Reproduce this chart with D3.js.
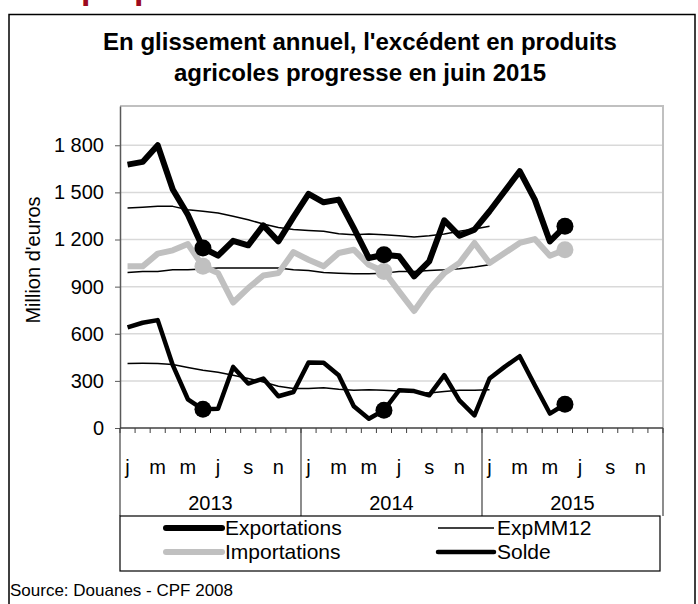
<!DOCTYPE html>
<html>
<head>
<meta charset="utf-8">
<script src="https://cdn.jsdelivr.net/npm/d3@7"></script>
<style>
  body { margin: 0; background: #fff; }
  svg { display: block; }
  text { font-family: Arial, "Liberation Sans", sans-serif; }
</style>
</head>
<body>
<div id="chart"></div>
<script>
// monthly values, jan 2013 -> jun 2015 (million euros)
var monthLabels = ["j", "", "m", "", "m", "", "j", "", "s", "", "n", ""];
var years = ["2013", "2014", "2015"];
var yTicks = [0, 300, 600, 900, 1200, 1500, 1800];

var exportations = [1677, 1694, 1800, 1518, 1358, 1146, 1097, 1192, 1163, 1290, 1188, 1343,
                    1490, 1437, 1454, 1273, 1082, 1103, 1093, 965, 1061, 1322, 1224, 1263,
                    1380, 1507, 1635, 1454, 1188, 1284];
var importations = [1029, 1029, 1110, 1131, 1171, 1030, 986, 799, 891, 971, 986, 1120,
                     1071, 1029, 1114, 1135, 1039, 997, 870, 745, 880, 986, 1050, 1178,
                     1050, 1114, 1178, 1203, 1097, 1135];
var solde = [641, 670, 687, 400, 183, 119, 123, 389, 283, 315, 202, 229,
             417, 415, 336, 138, 59, 113, 240, 235, 208, 336, 176, 80,
             315, 389, 457, 272, 92, 151];
// 12 month moving averages (only the export one is in the legend)
var expMM12 = [1401, 1405, 1411, 1411, 1390, 1380, 1369, 1348, 1326, 1299, 1277, 1263,
               1258, 1252, 1237, 1231, 1235, 1231, 1224, 1216, 1224, 1235, 1252, 1267, 1284];
var impMM12 = [990, 997, 997, 1007, 1007, 1012, 1018, 1018, 1018, 1018, 1018, 1007,
               1003, 990, 986, 982, 982, 986, 997, 997, 1003, 1007, 1014, 1025, 1039];
var soldeMM12 = [411, 412, 411, 404, 385, 368, 355, 336, 315, 293, 266, 251,
                 251, 257, 246, 240, 244, 240, 235, 229, 223, 233, 240, 240, 244];
var juneIdx = [5, 17, 29];

(function() {
    var width = 698, height = 604;

    var svg = d3.select("#chart")
        .append("svg")
        .attr("width", width)
        .attr("height", height)

    svg.append("rect").attr("width", width).attr("height", height).attr("fill", "#fff")

    // bits of the page heading cut off above the frame
    svg.append("g").attr("fill", "#9c0a1e").attr("font-weight", "bold").attr("font-size", 34)
        .selectAll("text").data([81, 134]).join("text")
        .attr("x", function(d) { return d }).attr("y", -1).text("p")

    svg.append("rect")
        .attr("x", 9).attr("y", 14.5).attr("width", 686).attr("height", 640)
        .attr("fill", "none").attr("stroke", "#000").attr("stroke-width", 1.5)

    // title
    svg.append("text").attr("x", 360).attr("y", 50).attr("text-anchor", "middle")
        .attr("font-size", 24).attr("font-weight", "bold")
        .text("En glissement annuel, l'excédent en produits")
    svg.append("text").attr("x", 360).attr("y", 81).attr("text-anchor", "middle")
        .attr("font-size", 24).attr("font-weight", "bold")
        .text("agricoles progresse en juin 2015")

    var x = d3.scaleBand().domain(d3.range(36)).range([120, 663])
    var y = d3.scaleLinear().domain([0, 2050]).range([428, 106])
    var bw = x.bandwidth()
    var cx = function(i) { return x(i) + bw / 2 }

    // grid
    svg.append("g").selectAll("line").data(yTicks.filter(function(v) { return v > 0 }))
        .join("line")
        .attr("x1", 120).attr("x2", 663)
        .attr("y1", function(d) { return y(d) }).attr("y2", function(d) { return y(d) })
        .attr("stroke", "#d9d9d9").attr("stroke-width", 1.5)

    // plot frame top / right
    svg.append("path")
        .attr("d", "M120," + y.range()[1] + "H663V428")
        .attr("fill", "none").attr("stroke", "#c0c0c0").attr("stroke-width", 2)

    var fr = d3.formatLocale({ decimal: ",", thousands: "\u00a0", grouping: [3], currency: ["", " €"] })

    var yAxis = svg.append("g")
        .attr("transform", "translate(120,0)")
        .call(d3.axisLeft(y).tickValues(yTicks).tickSize(5).tickSizeOuter(0).tickPadding(11)
            .tickFormat(fr.format(",")))
    yAxis.select(".domain").attr("stroke", "#595959").attr("stroke-width", 1.5)
    yAxis.selectAll(".tick line").attr("stroke", "#595959")
    yAxis.selectAll(".tick text").attr("font-size", 20).attr("fill", "#000")
        .attr("font-family", "Arial, 'Liberation Sans', sans-serif")

    svg.append("text")
        .attr("transform", "translate(40,260) rotate(-90)")
        .attr("text-anchor", "middle").attr("font-size", 20)
        .text("Million d'euros")

    // x axis: line, month ticks, month and year labels
    svg.append("line").attr("x1", 120).attr("x2", 663).attr("y1", 428).attr("y2", 428)
        .attr("stroke", "#404040").attr("stroke-width", 1.5)

    svg.append("g").selectAll("line").data(d3.range(37)).join("line")
        .attr("x1", function(k) { return 120 + k * bw }).attr("x2", function(k) { return 120 + k * bw })
        .attr("y1", 428).attr("y2", 433)
        .attr("stroke", "#404040")

    svg.append("g").selectAll("text").data(d3.range(36)).join("text")
        .attr("x", function(i) { return cx(i) }).attr("y", 474)
        .attr("text-anchor", "middle").attr("font-size", 20)
        .text(function(i) { return monthLabels[i % 12] })

    svg.append("g").selectAll("line").data(d3.range(4)).join("line")
        .attr("x1", function(k) { return 120 + k * 12 * bw }).attr("x2", function(k) { return 120 + k * 12 * bw })
        .attr("y1", 428).attr("y2", 516)
        .attr("stroke", "#404040").attr("stroke-width", 1.2)

    svg.append("g").selectAll("text").data(years).join("text")
        .attr("x", function(d, k) { return 120 + (k * 12 + 6) * bw }).attr("y", 510)
        .attr("text-anchor", "middle").attr("font-size", 20)
        .text(function(d) { return d })

    // series
    var line = d3.line()
        .x(function(d, i) { return cx(i) })
        .y(function(d) { return y(d) })

    var series = [
        { name: "impMM12", values: impMM12, color: "#000", w: 1.5 },
        { name: "soldeMM12", values: soldeMM12, color: "#000", w: 1.5 },
        { name: "Importations", values: importations, color: "#c0c0c0", w: 6 },
        { name: "Exportations", values: exportations, color: "#000", w: 6 },
        { name: "ExpMM12", values: expMM12, color: "#000", w: 1.5 },
        { name: "Solde", values: solde, color: "#000", w: 4.5 }
    ]

    svg.append("g").selectAll("path").data(series).join("path")
        .attr("d", function(s) { return line(s.values) })
        .attr("fill", "none")
        .attr("stroke", function(s) { return s.color })
        .attr("stroke-width", function(s) { return s.w })
        .attr("stroke-linejoin", "round")

    // june markers
    var marked = series.filter(function(s) { return s.w > 4 })
    marked.forEach(function(s) {
        svg.append("g").selectAll("circle").data(juneIdx).join("circle")
            .attr("cx", function(i) { return cx(i) })
            .attr("cy", function(i) { return y(s.values[i]) })
            .attr("r", 8.5)
            .attr("fill", s.color)
    })

    // legend
    svg.append("rect").attr("x", 120).attr("y", 516).attr("width", 540).attr("height", 55)
        .attr("fill", "#fff").attr("stroke", "#000").attr("stroke-width", 1.2)

    var legendItems = [
        { label: "Exportations", color: "#000", w: 6, x: 166, y: 528 },
        { label: "ExpMM12", color: "#000", w: 1.5, x: 438, y: 528 },
        { label: "Importations", color: "#c0c0c0", w: 6, x: 166, y: 552 },
        { label: "Solde", color: "#000", w: 4.5, x: 438, y: 552 }
    ]
    var lg = svg.append("g").selectAll("g").data(legendItems).join("g")
        .attr("transform", function(d) { return "translate(" + d.x + "," + d.y + ")" })
    lg.append("line").attr("x1", 0).attr("x2", 56)
        .attr("stroke", function(d) { return d.color })
        .attr("stroke-width", function(d) { return d.w })
        .attr("stroke-linecap", function(d) { return d.w > 2 ? "round" : "butt" })
    lg.append("text").attr("x", 59).attr("y", 7).attr("font-size", 21)
        .text(function(d) { return d.label })

    svg.append("text").attr("x", 10).attr("y", 596).attr("font-size", 17)
        .text("Source: Douanes - CPF 2008")
})();
</script>
</body>
</html>
